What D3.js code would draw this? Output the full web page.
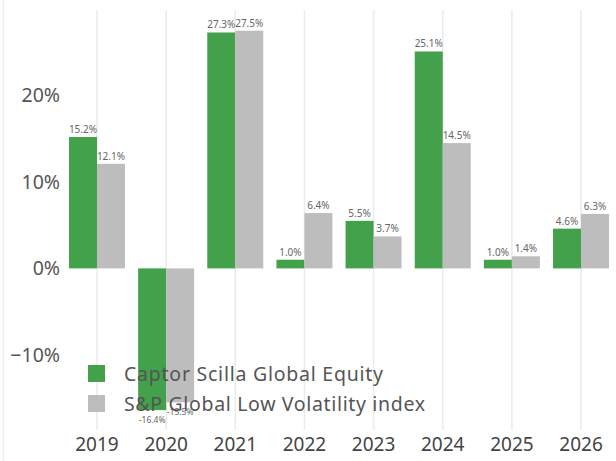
<!DOCTYPE html>
<html>
<head>
<meta charset="utf-8">
<script src="https://cdn.jsdelivr.net/npm/d3@7"></script>
<style>
	body { margin: 0; background: #fff; }
	svg { display: block; font-family: "Noto Sans", sans-serif; }
</style>
</head>
<body>
<div id="chart"></div>
<script>
var years = ['2019', '2020', '2021', '2022', '2023', '2024', '2025', '2026'];
var seriesNames = ['Captor Scilla Global Equity', 'S&P Global Low Volatility index'];
var captorValues = [15.2, -16.4, 27.3, 1.0, 5.5, 25.1, 1.0, 4.6];
var indexValues = [12.1, -15.5, 27.5, 6.4, 3.7, 14.5, 1.4, 6.3];
var yTicks = [-10, 0, 10, 20];
var colors = ['#43a04b', '#bdbdbd'];

var width = 616, height = 461;

var svg = d3.select('#chart').append('svg')
	.attr('width', width)
	.attr('height', height);

var x0 = d3.scaleBand().domain(years).range([62.4, 615.6]).paddingInner(0);
var x1 = d3.scaleBand().domain([0, 1]).range([0, x0.bandwidth()]).paddingInner(0).paddingOuter(0.235);
var y = d3.scaleLinear().domain([-18.7, 29.9]).range([430, 10]);

var data = years.map(function (yr, i) {
	return { year: yr, values: [captorValues[i], indexValues[i]] };
});

// left frame line
svg.append('line')
	.attr('x1', 3.5).attr('x2', 3.5)
	.attr('y1', 0).attr('y2', height)
	.attr('stroke', '#f0f0f0').attr('stroke-width', 1.5);

// vertical gridlines at category centres
svg.append('g').selectAll('line')
	.data(years)
	.enter().append('line')
	.attr('x1', function (d) { return x0(d) + x0.bandwidth() / 2; })
	.attr('x2', function (d) { return x0(d) + x0.bandwidth() / 2; })
	.attr('y1', y.range()[1])
	.attr('y2', y.range()[0])
	.attr('stroke', '#ebebeb')
	.attr('stroke-width', 1.5);

// y axis labels
var yAxis = svg.append('g')
	.attr('transform', 'translate(60,0)')
	.call(d3.axisLeft(y).tickValues(yTicks).tickSize(0).tickPadding(0)
		.tickFormat(function (d) { return (d < 0 ? '\u2212' + Math.abs(d) : d) + '%'; }));
yAxis.select('.domain').remove();
yAxis.selectAll('text')
	.attr('fill', '#555')
	.style('font-size', '19.5px')
	.style('font-family', '"Noto Sans", sans-serif');

// x axis labels
var xAxis = svg.append('g')
	.attr('transform', 'translate(0,433)')
	.call(d3.axisBottom(x0).tickSize(0).tickPadding(0));
xAxis.select('.domain').remove();
xAxis.selectAll('text')
	.attr('fill', '#444')
	.attr('dy', '0.95em')
	.style('font-size', '19px')
	.style('font-family', '"Noto Sans", sans-serif');

// bars
var groups = svg.append('g').selectAll('g')
	.data(data)
	.enter().append('g')
	.attr('transform', function (d) { return 'translate(' + x0(d.year) + ',0)'; });

groups.selectAll('rect')
	.data(function (d) { return d.values.map(function (v, k) { return { k: k, v: v }; }); })
	.enter().append('rect')
	.attr('x', function (d) { return x1(d.k); })
	.attr('width', x1.bandwidth())
	.attr('y', function (d) { return y(Math.max(0, d.v)); })
	.attr('height', function (d) { return Math.abs(y(d.v) - y(0)); })
	.attr('fill', function (d) { return colors[d.k]; });

groups.selectAll('text')
	.data(function (d) { return d.values.map(function (v, k) { return { k: k, v: v }; }); })
	.enter().append('text')
	.attr('x', function (d) { return x1(d.k) + x1.bandwidth() / 2; })
	.attr('y', function (d) { return d.v >= 0 ? y(d.v) - 4 : y(d.v) + 13; })
	.attr('text-anchor', 'middle')
	.attr('fill', '#666')
	.style('font-size', function (d) { return d.v < 0 ? '8.5px' : '10px'; })
	.text(function (d) { return d.v.toFixed(1) + '%'; });

// legend
var legendWidths = [259, 301];
var legend = svg.append('g');
seriesNames.forEach(function (name, i) {
	legend.append('rect')
		.attr('x', 88).attr('y', 365 + i * 30)
		.attr('width', 17).attr('height', 17)
		.attr('fill', colors[i]);
	legend.append('text')
		.attr('x', 124).attr('y', 381 + i * 30)
		.attr('fill', '#555')
		.attr('textLength', legendWidths[i])
		.attr('lengthAdjust', 'spacing')
		.style('font-size', '19.5px')
		.text(name);
});
</script>
</body>
</html>
